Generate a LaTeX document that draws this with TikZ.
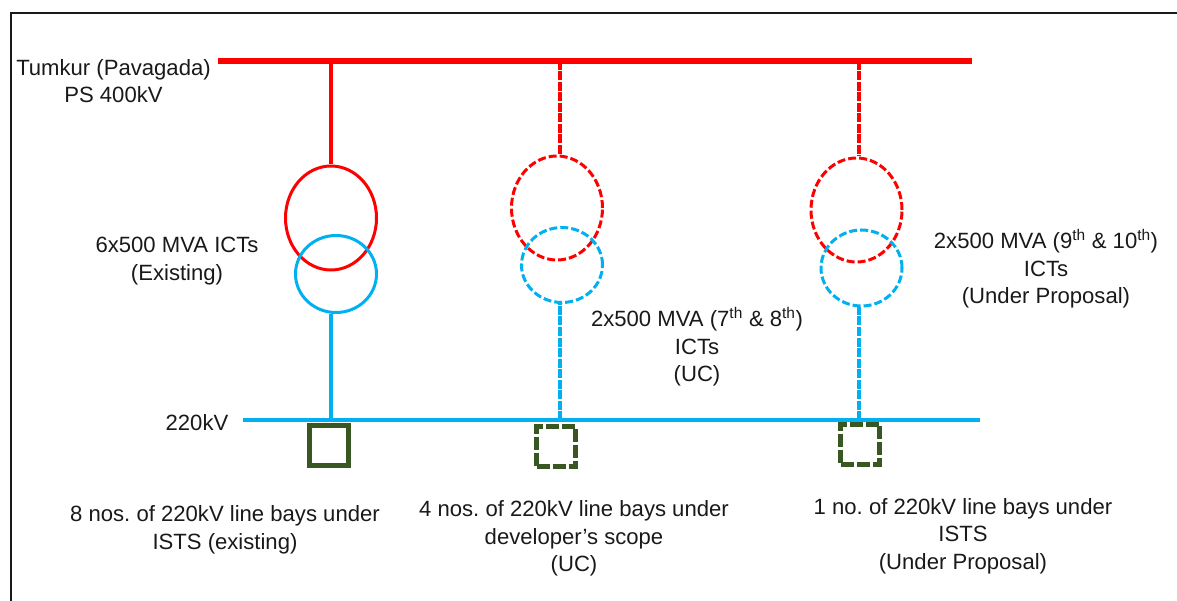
\documentclass[tikz,border=0pt]{standalone}
\usepackage{fontspec}
\setmainfont{Liberation Sans}
\usetikzlibrary{shapes.geometric}
\definecolor{busred}{RGB}{255,0,0}
\definecolor{busblue}{RGB}{0,176,240}
\definecolor{baygreen}{RGB}{56,87,35}
\newcommand{\thsup}{\textsuperscript{th}}
\frenchspacing
\begin{document}
\begin{tikzpicture}[x=1pt,y=-1pt,
  lbl/.style={font=\fontsize{22.1pt}{27.6pt}\selectfont,align=center,text=black!90,inner sep=0pt},
  hv/.style={ellipse,draw,inner sep=0pt,line width=3pt},
  rsolid/.style={hv,draw=busred},
  rdash/.style={hv,draw=busred,dash pattern=on 8pt off 3pt},
  bsolid/.style={hv,draw=busblue},
  bdash/.style={hv,draw=busblue,dash pattern=on 8pt off 3pt},
  bay/.style={rectangle,draw=baygreen,line width=5pt,minimum width=39pt,minimum height=40pt,inner sep=0pt},
  baydash/.style={bay,dash pattern=on 13pt off 3pt},
  stemr/.style={draw=busred,line width=3.4pt},
  stemb/.style={draw=busblue,line width=3.4pt},
  dsh/.style={dash pattern=on 9pt off 1.5pt}]
\useasboundingbox (0,0) rectangle (1177,601);
\draw[line width=2pt,black!90] (11,601) -- (11,13) -- (1177,13);
% transformers
\node[rsolid,minimum width=91pt,minimum height=104pt] (t1r) at (331,218) {};
\node[bsolid,minimum width=81pt,minimum height=77pt] (t1b) at (336,274) {};
\node[rdash,minimum width=91pt,minimum height=104pt] (t2r) at (557,208) {};
\node[bdash,minimum width=81pt,minimum height=75pt] (t2b) at (562,265) {};
\node[rdash,minimum width=91pt,minimum height=104pt] (t3r) at (856.5,210) {};
\node[bdash,minimum width=81pt,minimum height=76pt] (t3b) at (861.5,268) {};
% buses
\coordinate (rl) at (218,61);
\coordinate (rr) at (972,61);
\coordinate (bl) at (243,420);
\coordinate (br) at (980,420);
\coordinate (r1) at (331,61);
\coordinate (r2) at (560,61);
\coordinate (r3) at (859,61);
\coordinate (b1) at (331,420);
\coordinate (b2) at (560,420);
\coordinate (b3) at (859,420);
\draw[busred,line width=6.5pt] (rl) -- (rr);
\draw[busblue,line width=4pt] (bl) -- (br);
\draw[stemr] (r1) -- (r1 |- t1r.north);
\draw[stemr,dsh] (r2) -- (r2 |- t2r.north);
\draw[stemr,dsh] (r3) -- (r3 |- t3r.north);
\draw[stemb] (b1) -- (b1 |- t1b.south);
\draw[stemb,dsh] (b2) -- (b2 |- t2b.south);
\draw[stemb,dsh] (b3) -- (b3 |- t3b.south);
% bays
\node[bay] (bay1) at (329,445.5) {};
\node[baydash] (bay2) at (556,446.5) {};
\node[baydash] (bay3) at (860,444) {};
% labels
\node[lbl] (n1) at (113.5,81) {Tumkur (Pavagada)\\PS 400kV};
\node[lbl] (n2) at (177,261) {6x500 MVA ICTs\\(Existing)};
\node[lbl] (n3) at (697,347) {2x500 MVA (7\thsup{} \& 8\thsup)\\ICTs\\(UC)};
\node[lbl] (n4) at (1046,269) {2x500 MVA (9\thsup{} \& 10\thsup)\\ICTs\\(Under Proposal)};
\node[lbl] (n5) at (197,423) {220kV};
\node[lbl] (n6) at (225,530) {8 nos. of 220kV line bays under\\ISTS (existing)};
\node[lbl] (n7) at (574,538.5) {4 nos. of 220kV line bays under\\developer’s scope\\(UC)};
\node[lbl] (n8) at (963,536) {1 no. of 220kV line bays under\\ISTS\\(Under Proposal)};
\end{tikzpicture}
\end{document}
